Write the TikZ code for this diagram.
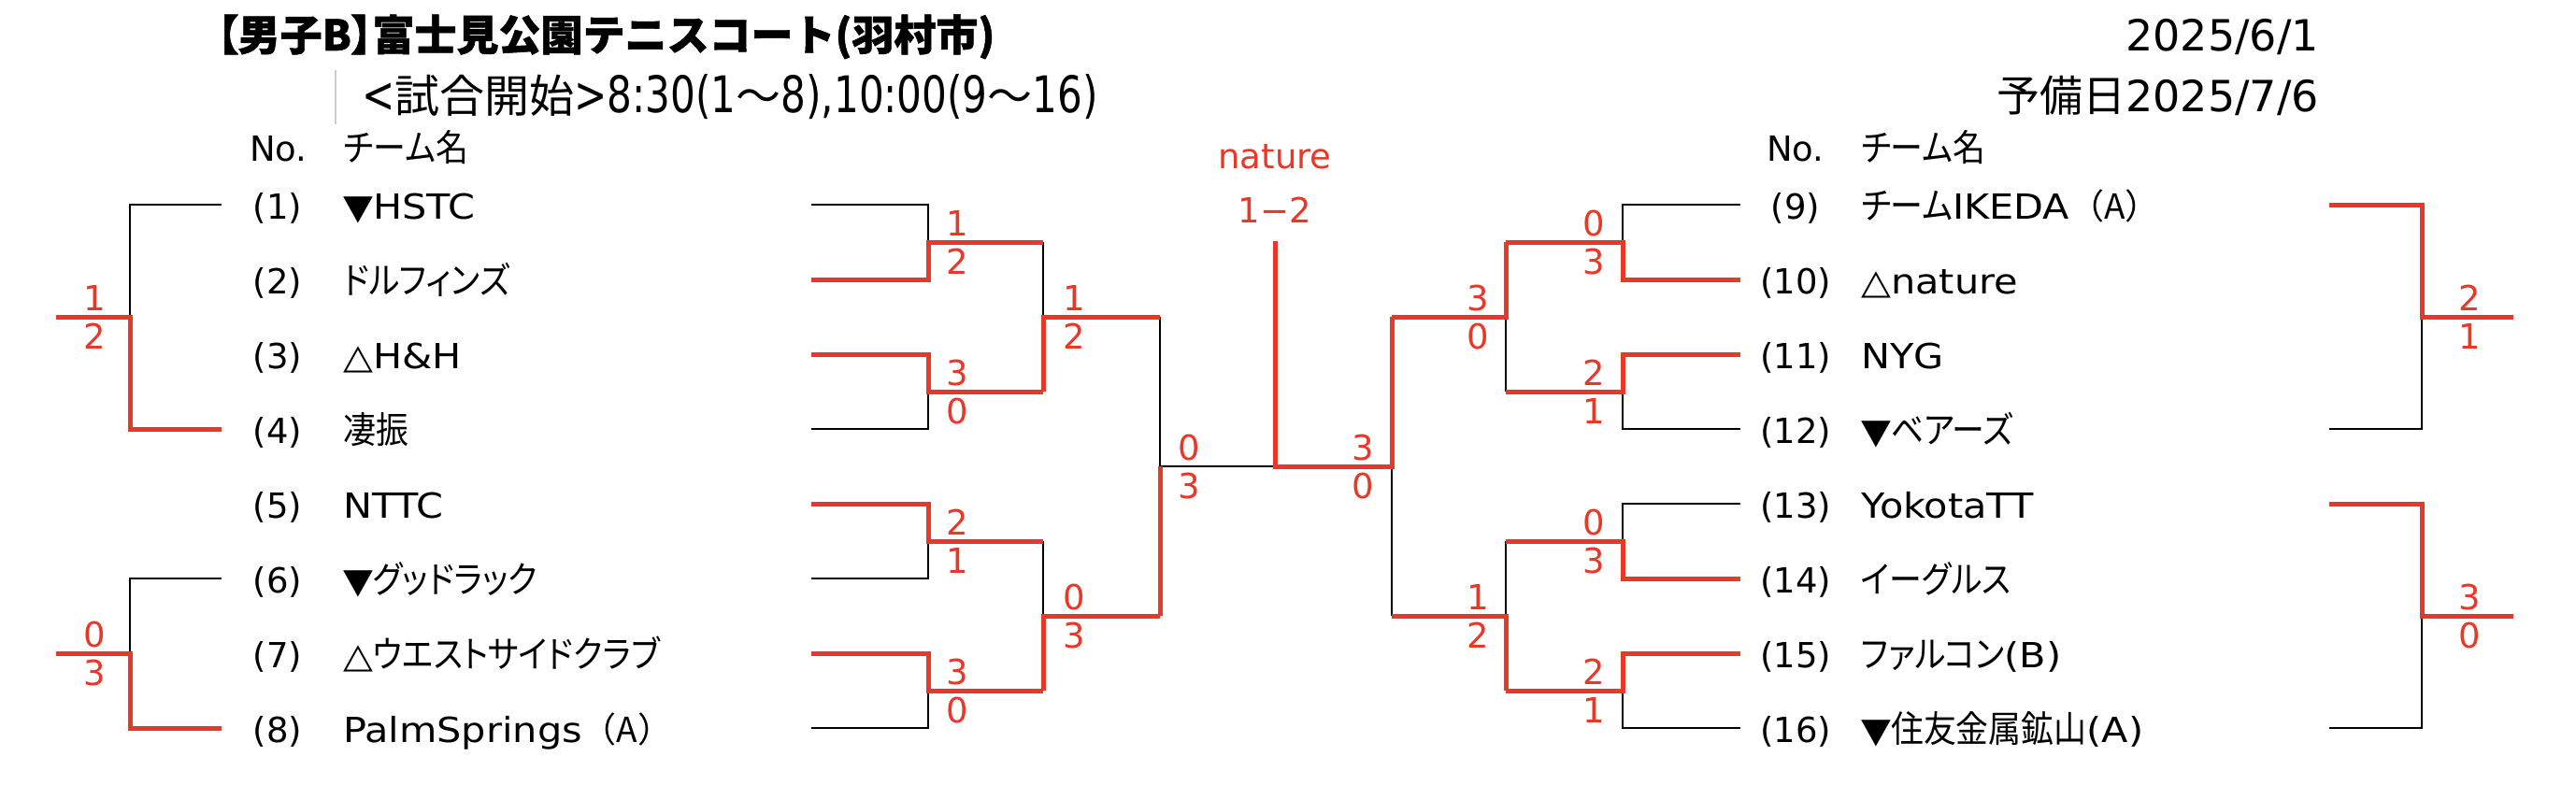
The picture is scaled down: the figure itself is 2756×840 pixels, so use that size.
\documentclass[tikz,border=0pt]{standalone}
\usepackage{fontspec}
\setmainfont{DejaVu Sans}
\newfontfamily\jp{Noto Sans CJK JP}[RawFeature=+palt,FakeStretch=0.89,Scale=1.06]
\newfontfamily\jpt{Noto Sans CJK JP}[BoldFeatures={FakeBold=1.2}]
\newfontfamily\jptp{Noto Sans CJK JP}[RawFeature=+palt,BoldFeatures={FakeBold=1.2}]
\newfontfamily\subf{DejaVu Sans}[FakeStretch=0.78]
\newfontfamily\teamf{DejaVu Sans}[FakeStretch=1.12]
\definecolor{win}{RGB}{232,56,40}
\definecolor{sepgray}{RGB}{205,205,205}
\begin{document}
\begin{tikzpicture}[x=1pt,y=-1pt,
  blk/.style={line width=2pt,black},
  wl/.style={line width=5pt,win,line join=miter},
  num/.style={anchor=base,inner sep=0pt,font=\fontsize{37}{44}\selectfont},
  team/.style={anchor=base west,inner sep=0pt,font=\fontsize{37}{44}\teamf},
  sc/.style={anchor=base,inner sep=0pt,text=win,font=\fontsize{37}{44}\selectfont},
  hdr/.style={anchor=base west,inner sep=0pt,font=\fontsize{37}{44}\selectfont},
]
\fill[white] (0,0) rectangle (2756,840);
\useasboundingbox (0,0) rectangle (2756,840);

% ---------- header ----------
\node[anchor=base west,inner sep=0pt,font=\fontsize{45}{50}\jpt\bfseries] (title) at (232,54) {{\jptp\bfseries 【}男子B{\jptp\bfseries 】}富士見公園テニスコート(羽村市)};
\coordinate (g1) at (359,75); \coordinate (g2) at (359,133);
\draw[sepgray,line width=2pt] (g1) -- (g2);
\node[anchor=base west,inner sep=0pt,font=\fontsize{54}{60}\subf] (sub) at (387,121)
  {<{\fontsize{48}{56}\jpt 試合開始}>8:30(1{\fontsize{48}{56}\jpt 〜}8),10:00(9{\fontsize{48}{56}\jpt 〜}16)};
\node[anchor=base east,inner sep=0pt,font=\fontsize{46}{52}\selectfont] (date) at (2481,55) {2025/6/1};
\node[anchor=base east,inner sep=0pt,font=\fontsize{46}{52}\selectfont] (spare) at (2481,120) {{\jpt 予備日}2025/7/6};
\node[hdr] (noL) at (267,172) {No.};
\node[hdr] (tmL) at (368,172) {\jp チーム名};
\node[hdr] (noR) at (1890,172) {No.};
\node[hdr] (tmR) at (1991,172) {\jp チーム名};

% ---------- teams ----------
\node[num] (n1) at (297,234) {(1)};  \node[team] (t1) at (367,234) {▼HSTC};
\node[num] (n2) at (297,314) {(2)};  \node[team] (t2) at (367,314) {\jp ドルフィンズ};
\node[num] (n3) at (297,394) {(3)};  \node[team] (t3) at (367,394) {△H\&H};
\node[num] (n4) at (297,474) {(4)};  \node[team] (t4) at (367,474) {\jp 凄振};
\node[num] (n5) at (297,554) {(5)};  \node[team] (t5) at (367,554) {NTTC};
\node[num] (n6) at (297,634) {(6)};  \node[team] (t6) at (367,634) {▼{\jp グッドラック}};
\node[num] (n7) at (297,714) {(7)};  \node[team] (t7) at (367,714) {△{\jp ウエストサイドクラブ}};
\node[num] (n8) at (297,794) {(8)};  \node[team] (t8) at (367,794) {PalmSprings{\jpt （A）}};

\node[num] (n9) at (1921,234) {(9)};   \node[team] (t9) at (1991,234) {{\jp チーム}IKEDA{\jpt （A）}};
\node[num] (n10) at (1921,314) {(10)}; \node[team] (t10) at (1991,314) {△nature};
\node[num] (n11) at (1921,394) {(11)}; \node[team] (t11) at (1991,394) {NYG};
\node[num] (n12) at (1921,474) {(12)}; \node[team] (t12) at (1991,474) {▼{\jp ベアーズ}};
\node[num] (n13) at (1921,554) {(13)}; \node[team] (t13) at (1991,554) {YokotaTT};
\node[num] (n14) at (1921,634) {(14)}; \node[team] (t14) at (1991,634) {\jp イーグルス};
\node[num] (n15) at (1921,714) {(15)}; \node[team] (t15) at (1991,714) {{\jp ファルコン}(B)};
\node[num] (n16) at (1921,794) {(16)}; \node[team] (t16) at (1991,794) {▼{\jp 住友金属鉱山}(A)};

% ---------- coordinates ----------
\foreach \i in {1,...,8} {
  \coordinate (a\i) at (868,{219+80*(\i-1)});
  \coordinate (fa\i) at (237,{219+80*(\i-1)});
}
\foreach \i in {9,...,16} {
  \coordinate (b\i) at (1862,{219+80*(\i-9)});
  \coordinate (fb\i) at (2492,{219+80*(\i-9)});
}
\foreach \k/\y in {a/259,b/419,c/579,d/739} {
  \coordinate (jL1\k) at (993,\y);  \coordinate (eL1\k) at (1116,\y);
  \coordinate (jR1\k) at (1736,\y); \coordinate (eR1\k) at (1611,\y);
}
\foreach \k/\y in {a/339,b/659} {
  \coordinate (jL2\k) at (1116,\y); \coordinate (eL2\k) at (1241,\y);
  \coordinate (jR2\k) at (1611,\y); \coordinate (eR2\k) at (1489,\y);
}
\coordinate (jL3) at (1241,499);
\coordinate (F) at (1364,499);
\coordinate (top) at (1364,258);
\coordinate (jR3) at (1489,499);
\coordinate (jFLa) at (139,339); \coordinate (xFLa) at (60,339);
\coordinate (jFLb) at (139,699); \coordinate (xFLb) at (60,699);
\coordinate (jFRa) at (2591,339); \coordinate (xFRa) at (2689,339);
\coordinate (jFRb) at (2591,659); \coordinate (xFRb) at (2689,659);

% ---------- black (losing) lines ----------
\draw[blk] (a1) -| (jL1a);
\draw[blk] (a4) -| (jL1b);
\draw[blk] (a6) -| (jL1c);
\draw[blk] (a8) -| (jL1d);
\draw[blk] (eL1a) -- (jL2a);
\draw[blk] (eL1c) -- (jL2b);
\draw[blk] (eL2a) -- (jL3) -- (F);
\draw[blk] (b9) -| (jR1a);
\draw[blk] (b12) -| (jR1b);
\draw[blk] (b13) -| (jR1c);
\draw[blk] (b16) -| (jR1d);
\draw[blk] (eR1b) -- (jR2a);
\draw[blk] (eR1c) -- (jR2b);
\draw[blk] (eR2b) -- (jR3);
\draw[blk] (fa1) -| (jFLa);
\draw[blk] (fa6) -| (jFLb);
\draw[blk] (fb12) -| (jFRa);
\draw[blk] (fb16) -| (jFRb);

% ---------- red (winning) lines ----------
\draw[wl] (a2) -| (jL1a) -- (eL1a);
\draw[wl] (a3) -| (jL1b) -- (eL1b);
\draw[wl] (a5) -| (jL1c) -- (eL1c);
\draw[wl] (a7) -| (jL1d) -- (eL1d);
\draw[wl] (eL1b) -- (jL2a) -- (eL2a);
\draw[wl] (eL1d) -- (jL2b) -- (eL2b);
\draw[wl] (eL2b) -- (jL3);
\draw[wl] (b10) -| (jR1a) -- (eR1a);
\draw[wl] (b11) -| (jR1b) -- (eR1b);
\draw[wl] (b14) -| (jR1c) -- (eR1c);
\draw[wl] (b15) -| (jR1d) -- (eR1d);
\draw[wl] (eR1a) -- (jR2a) -- (eR2a);
\draw[wl] (eR1d) -- (jR2b) -- (eR2b);
\draw[wl] (eR2a) -- (jR3) -- (F) -- (top);
\draw[wl] (fa4) -| (jFLa) -- (xFLa);
\draw[wl] (fa8) -| (jFLb) -- (xFLb);
\draw[wl] (fb9) -| (jFRa) -- (xFRa);
\draw[wl] (fb13) -| (jFRb) -- (xFRb);

% ---------- scores ----------
\foreach \x/\j/\u/\d/\n in {
  101/339/1/2/fla, 101/699/0/3/flb,
  1024/259/1/2/l1a, 1024/419/3/0/l1b, 1024/579/2/1/l1c, 1024/739/3/0/l1d,
  1149/339/1/2/l2a, 1149/659/0/3/l2b,
  1272/499/0/3/l3,
  1458/499/3/0/r3,
  1581/339/3/0/r2a, 1581/659/1/2/r2b,
  1705/259/0/3/r1a, 1705/419/2/1/r1b, 1705/579/0/3/r1c, 1705/739/2/1/r1d,
  2642/339/2/1/fra, 2642/659/3/0/frb} {
  \node[sc] (s\n-u) at (\x,{\j-7}) {\u};
  \node[sc] (s\n-d) at (\x,{\j+34}) {\d};
}
\node[sc] (champ) at (1364,180) {nature};
\node[sc] (final) at (1364,238) {1−2};
\end{tikzpicture}
\end{document}
